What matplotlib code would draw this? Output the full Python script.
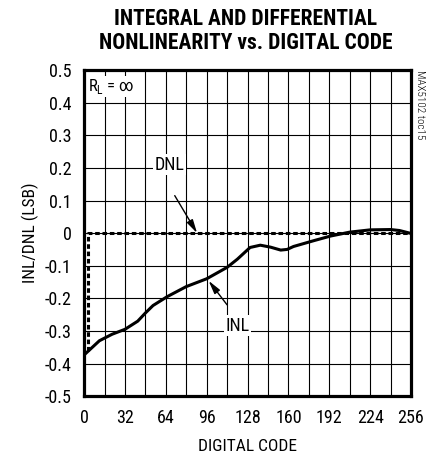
import numpy as np
import matplotlib.pyplot as plt

# INL curve
inl_code = [1, 12, 22, 32, 42, 48, 54, 65, 80, 96, 112, 120, 130, 138, 146, 154, 159, 164,
            180, 193, 208, 224, 240, 247, 255]
inl_val = [-0.37, -0.33, -0.31, -0.295, -0.27, -0.245, -0.222, -0.195, -0.164, -0.14, -0.105,
           -0.08, -0.044, -0.037, -0.043, -0.052, -0.05, -0.041, -0.023, -0.009, 0.003,
           0.01, 0.011, 0.008, 0.0]

# DNL (dashed)
dnl_code = [3, 3, 256]
dnl_val = [-0.36, 0.0, 0.0]

x_ticks = [0, 32, 64, 96, 128, 160, 192, 224, 256]
y_ticks = [-0.5, -0.4, -0.3, -0.2, -0.1, 0, 0.1, 0.2, 0.3, 0.4, 0.5]
y_labels = ['-0.5', '-0.4', '-0.3', '-0.2', '-0.1', '0', '0.1', '0.2', '0.3', '0.4', '0.5']

plt.rcParams['font.family'] = ['Roboto Condensed', 'DejaVu Sans']


def main():
    fig = plt.figure(figsize=(4.29, 4.58), dpi=100)
    ax = fig.add_axes([0.196, 0.135, 0.762, 0.712])

    ax.set_xlim(0, 256)
    ax.set_ylim(-0.5, 0.5)
    ax.set_xticks(np.arange(0, 257, 16), minor=True)
    ax.set_xticks(x_ticks)
    ax.set_xticklabels([str(t) for t in x_ticks])
    ax.set_yticks(y_ticks)
    ax.set_yticklabels(y_labels)
    ax.tick_params(which='both', length=0, labelsize=13, pad=9)
    ax.grid(which='both', color='black', linewidth=0.8)
    for s in ax.spines.values():
        s.set_linewidth(2.3)

    ax.plot(dnl_code, dnl_val, color='black', linestyle=(0, (1.5, 0.9)), linewidth=2.2, zorder=3)
    ax.plot(inl_code, inl_val, color='black', linewidth=2.2, zorder=4)

    arrow = dict(arrowstyle='-|>,head_length=0.8,head_width=0.2', color='black', lw=1.0,
                 shrinkA=0, shrinkB=0)
    ax.annotate('', xy=(88.5, 0.0), xytext=(71, 0.115), arrowprops=arrow, zorder=5)
    ax.text(67, 0.21, 'DNL', ha='center', va='center', fontsize=13,
            bbox=dict(facecolor='white', edgecolor='none', pad=1))
    ax.annotate('', xy=(97.5, -0.146), xytext=(112, -0.22), arrowprops=arrow, zorder=5)
    ax.text(120, -0.284, 'INL', ha='center', va='center', fontsize=13, zorder=6,
            bbox=dict(facecolor='white', edgecolor='none', pad=1))

    ax.text(3, 0.45, r'R$_\mathregular{L}$ = ∞', ha='left', va='center', fontsize=12, zorder=6,
            bbox=dict(facecolor='white', edgecolor='none', pad=1))

    ax.set_xlabel('DIGITAL CODE', fontsize=12.5, labelpad=9)
    ax.set_ylabel('INL/DNL (LSB)', fontsize=12.5, labelpad=4)

    fig.text(0.573, 0.932, 'INTEGRAL AND DIFFERENTIAL\nNONLINEARITY vs. DIGITAL CODE',
             ha='center', va='center', fontsize=15.5, fontweight='heavy', linespacing=1.15)
    fig.text(0.978, 0.847, 'MAX5102 toc15', rotation=270, ha='center', va='top', fontsize=8,
             fontweight='light')

    fig.savefig('out.png', dpi=100)


if __name__ == "__main__":
    main()
